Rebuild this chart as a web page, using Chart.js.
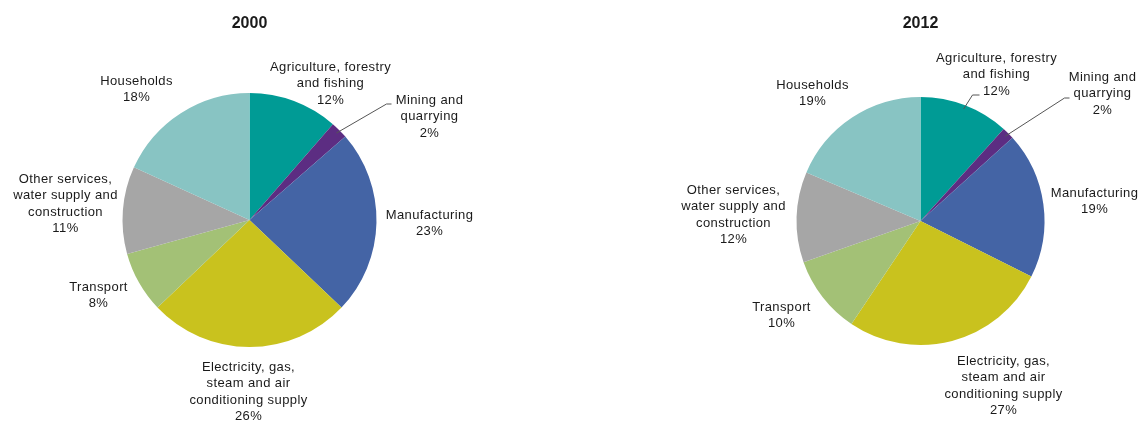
<!DOCTYPE html>
<html>
<head>
<meta charset="utf-8">
<script src="https://cdn.jsdelivr.net/npm/chart.js@4.4.0/dist/chart.umd.min.js"></script>
<style>
  html, body { margin: 0; padding: 0; background: #fff; }
  .wrap { position: relative; width: 1140px; height: 421px; }
  .wrap canvas { position: absolute; top: 0; }
</style>
</head>
<body>
<div class="wrap">
  <canvas id="pie2000" width="570" height="421" style="left:0"></canvas>
  <canvas id="pie2012" width="570" height="421" style="left:570px"></canvas>
</div>
<script>
// sectors, clockwise from 12 o'clock
const sectors = [
    ['Agriculture, forestry', 'and fishing'],
    ['Mining and', 'quarrying'],
    ['Manufacturing'],
    ['Electricity, gas,', 'steam and air', 'conditioning supply'],
    ['Transport'],
    ['Other services,', 'water supply and', 'construction'],
    ['Households']
];
const colors = ['#009b95', '#5c2d82', '#4464a5', '#c9c21e', '#a3c176', '#a6a6a6', '#88c4c3'];

// shares
const shares2000 = [11.4, 2.2, 23.5, 25.8, 7.8, 11.1, 18.2];
const shares2012 = [11.7, 1.6, 19.1, 27.0, 10.2, 11.8, 18.6];
// percentages as printed in the labels
const labels2000 = ['12%', '2%', '23%', '26%', '8%', '11%', '18%'];
const labels2012 = ['12%', '2%', '19%', '27%', '10%', '12%', '19%'];

// label placement, offset from pie centre (first line middle); leader = elbow offset
const layout2000 = [
    { dx: 81, dy: -153 },
    { dx: 180, dy: -120, leader: [137, -116, 142] },
    { dx: 180, dy: -5 },
    { dx: -1, dy: 147 },
    { dx: -151, dy: 67 },
    { dx: -184, dy: -41 },
    { dx: -113, dy: -139 }
];
const layout2012 = [
    { dx: 76, dy: -163, leader: [52, -126, 59] },
    { dx: 182, dy: -144, leader: [144, -123, 149] },
    { dx: 174, dy: -28 },
    { dx: 83, dy: 140 },
    { dx: -139, dy: 86 },
    { dx: -187, dy: -31 },
    { dx: -108, dy: -136 }
];

const FONT = '13px "Liberation Sans", Arial, sans-serif';
const LINE_H = 16.5;

const pieLabels = {
    id: 'pieLabels',
    afterDraw(chart, args, opts) {
        const ctx = chart.ctx;
        const arcs = chart.getDatasetMeta(0).data;
        const cx = arcs[0].x, cy = arcs[0].y, r = arcs[0].outerRadius;
        ctx.save();
        ctx.fillStyle = '#1a1a1a';
        ctx.textAlign = 'center';
        ctx.textBaseline = 'middle';
        ctx.font = 'bold 16px "Liberation Sans", Arial, sans-serif';
        ctx.fillText(opts.title, cx, 24);

        ctx.font = FONT;
        if ('letterSpacing' in ctx) ctx.letterSpacing = '0.4px';
        arcs.forEach((arc, i) => {
            const pos = opts.layout[i];
            const lines = sectors[i].concat([opts.texts[i]]);
            lines.forEach((t, k) => {
                ctx.fillText(t, cx + pos.dx, cy + pos.dy + k * LINE_H);
            });
            if (pos.leader) {
                const mid = (arc.startAngle + arc.endAngle) / 2;
                const sx = cx + Math.cos(mid) * (r - 4);
                const sy = cy + Math.sin(mid) * (r - 4);
                ctx.strokeStyle = '#555';
                ctx.lineWidth = 1;
                ctx.beginPath();
                ctx.moveTo(sx, sy);
                ctx.lineTo(cx + pos.leader[0], cy + pos.leader[1]);
                ctx.lineTo(cx + pos.leader[2], cy + pos.leader[1]);
                ctx.stroke();
            }
        });
        ctx.restore();
    }
};

function makePie(id, shares, texts, layout, title, padding) {
    return new Chart(document.getElementById(id), {
        type: 'pie',
        data: {
            labels: sectors.map(s => s.join(' ')),
            datasets: [{
                data: shares,
                backgroundColor: colors,
                borderWidth: 0
            }]
        },
        options: {
            responsive: false,
            animation: false,
            layout: { padding: padding },
            plugins: {
                legend: { display: false },
                tooltip: { enabled: false },
                pieLabels: { texts: texts, layout: layout, title: title }
            }
        },
        plugins: [pieLabels]
    });
}

makePie('pie2000', shares2000, labels2000, layout2000, '2000',
    { left: 122.5, right: 193.5, top: 93, bottom: 74 });
makePie('pie2012', shares2012, labels2012, layout2012, '2012',
    { left: 226.5, right: 95.5, top: 97, bottom: 76 });
</script>
</body>
</html>
